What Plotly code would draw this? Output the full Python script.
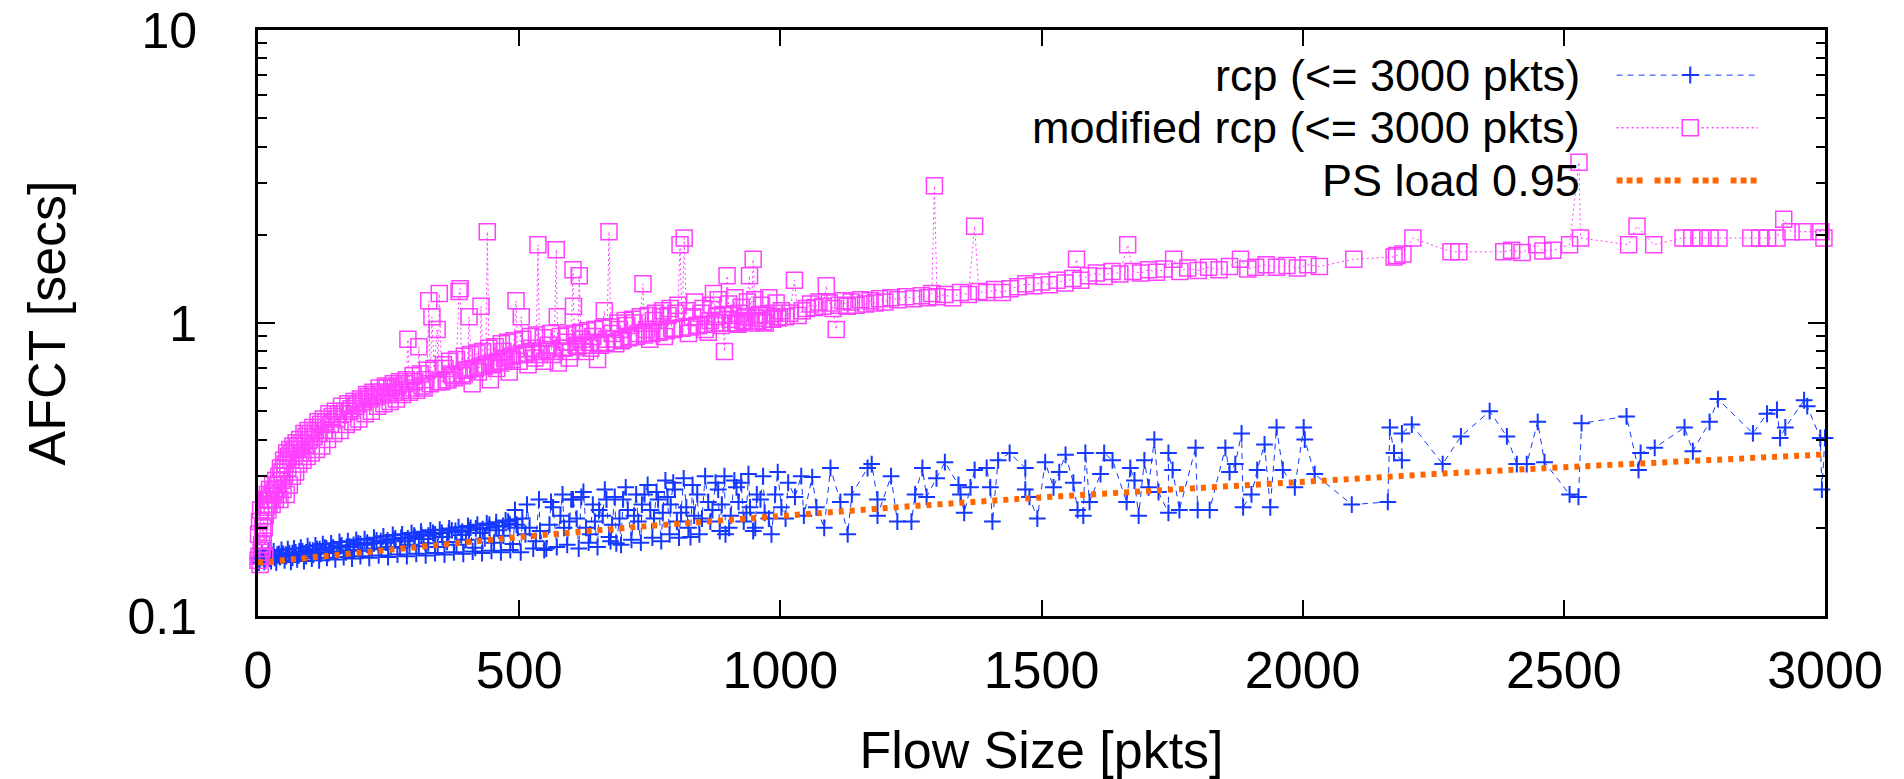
import numpy as np
import plotly.graph_objects as go

# ---------------- data ----------------
# rcp (<= 3000 pkts)
rcp_size_a = [0,3,6,10,14,18,22,27,32,37,42,48,54,60,66,72,78,85,92,99,106,113,120,128,136,144,152,160,168,176,
              184,192,200,209,218,227,236,245,254,263,272,281,290,299,308,317,326,335,344,353,362,371,380,389,398,
              407,416,425,434,443,452,461,470,479,488,497]
rcp_afct_a = [.157,.155,.16,.158,.156,.161,.157,.16,.158,.162,.159,.163,.16,.164,.158,.165,.161,.166,.16,.168,
              .162,.169,.163,.171,.164,.17,.166,.174,.165,.172,.168,.177,.167,.175,.17,.181,.169,.178,.172,.184,
              .171,.18,.175,.188,.173,.183,.177,.192,.172,.186,.179,.196,.175,.189,.182,.2,.171,.192,.184,.205,
              .178,.196,.188,.21,.176,.2]
rcp_size_a2 = [2,8,12,20,25,30,35,45,51,57,63,69,75,82,88,95,103,110,117,124,132,140,148,156,164,172,180,188,196,204,
               213,222,231,240,249,258,267,276,285,294,303,312,321,330,339,348,357,366,375,384,393,402,411,420,429,
               438,447,456,465,474,483,492]
rcp_afct_a2 = [.152,.165,.153,.167,.154,.166,.152,.168,.155,.169,.153,.17,.156,.171,.154,.173,.157,.174,.155,.176,
               .158,.177,.156,.179,.159,.18,.157,.182,.16,.183,.158,.185,.161,.187,.159,.189,.162,.19,.16,.192,
               .163,.194,.161,.196,.164,.197,.162,.199,.165,.201,.163,.203,.166,.205,.164,.207,.167,.209,.165,.212,
               .168,.214]
rcp_size_a3 = [5,16,28,40,53,66,79,92,105,118,131,144,157,170,183,196,209,222,235,248,
               261,274,287,300,313,326,339,352,365,378,391,404,417,430,443,456,469,482,495]
rcp_afct_a3 = [.158,.16,.161,.163,.162,.164,.166,.165,.167,.169,.17,.171,.173,.172,.175,.176,.178,.177,.18,.181,
               .182,.185,.184,.186,.189,.188,.19,.192,.193,.195,.194,.196,.199,.198,.2,.202,.203,.206,.205]
rcp_size_b = [492,506,532,552,565,579,603,619,636,653,667,672,686,699,720,740,751,766,784,795,810,828,841,862,881,
              895,916,925,935,948,962,983,1002,1015,1028]
rcp_afct_b = [.23,.215,.18,.17,.235,.22,.25,.255,.19,.23,.25,.186,.177,.25,.22,.26,.23,.25,.255,.285,.225,.186,.26,
              .245,.27,.19,.275,.285,.225,.195,.25,.19,.235,.285,.255]
rcp_size_c = [512,520,540,558,586,596,610,628,645,660,678,692,708,728,735,758,775,790,802,820,835,850,870,888,905,
              920,942,955,970,990,1010,1040,1045]
rcp_afct_c = [.19,.2,.195,.205,.2,.21,.215,.2,.21,.22,.205,.215,.23,.21,.24,.215,.225,.24,.21,.235,.22,.215,.23,.24,
              .22,.245,.235,.26,.225,.26,.215,.3,.22]
rcp_size_c2 = [503,515,527,538,548,561,572,583,592,600,614,623,633,641,650,664,675,683,695,704,715,724,733,746,755,
               763,772,780,788,798,806,815,824,832,845,856,866,876,884,893,902,912,930,939,952,967,978,995]
rcp_afct_c2 = [.165,.24,.17,.25,.168,.245,.172,.26,.175,.25,.17,.265,.178,.24,.172,.27,.18,.255,.175,.275,
               .182,.26,.178,.28,.185,.265,.18,.29,.19,.27,.185,.295,.2,.28,.19,.3,.21,.285,.195,.3,
               .2,.29,.21,.305,.2,.3,.215,.31]
rcp_size_d = [1061,1096,1069,1084,1129,1115,1137,1167,1175,1186,1186,1212,1224,1251,1258,1272,1280,1299,1315,1341,
              1345,1352,1364,1372,1395,1402,1406,1417,1439,1469,1469,1477,1492,1507,1523,1534,1546,1561,1569,1580,
              1584,1592,1613,1620,1636,1663,1670,1678,1686,1697,1705,1716,1724,1743,1743,1751,1764,1795,1799,1822,
              1852,1860,1871,1883,1886,1902,1913,1927,1938,1950,1962,1985,2002,2004,2023,2094,2163,2167,2175,2190,
              2190,2209]
rcp_afct_d = [.298,.32,.235,.2,.19,.245,.26,.32,.33,.25,.22,.30,.21,.21,.26,.32,.255,.295,.335,.28,
              .26,.225,.275,.315,.32,.275,.21,.34,.36,.32,.27,.255,.215,.335,.275,.31,.355,.285,.23,.22,
              .36,.245,.305,.36,.34,.245,.32,.29,.22,.34,.275,.40,.265,.225,.36,.315,.23,.375,.23,.23,
              .375,.31,.33,.42,.235,.26,.315,.385,.235,.44,.315,.275,.44,.40,.305,.24,.245,.44,.36,.34,
              .42,.45]
rcp_size_e = [2268,2303,2358,2391,2410,2429,2450,2463,2511,2528,2534,2620,2643,2647,2674,2731,2747,2779,2795,2862,
              2889,2908,2914,2924,2960,2966,2991,3000,2994]
rcp_afct_e = [.33,.41,.50,.41,.33,.33,.46,.335,.26,.255,.455,.48,.315,.36,.375,.44,.365,.46,.55,.42,
              .49,.505,.405,.44,.545,.52,.405,.405,.27]

# modified rcp (<= 3000 pkts)
mod_size_a = [0,2,4,6,8,10,12,14,16,18,20,22,25,28,31,34,37,40,43,46,49,52,55,58,61,64,67,70,73,76,80,84,88,92,96,100]
mod_afct_a = [.155,.16,.15,.165,.17,.18,.2,.22,.25,.26,.25,.27,.26,.28,.27,.29,.28,.3,.32,.31,.34,.33,.36,.35,.37,.36,
              .38,.37,.39,.38,.4,.39,.42,.41,.43,.42]
mod_size_a2 = [1,3,5,7,9,11,13,15,17,19,21,24,27,30,33,36,39,42,45,48,51,54,57,60,63,66,69,72,75,78,
               82,86,90,94,98,102,107,112,117,122,127,133,139,145,151,157,163,169,175,181,
               187,193,199,205,211,217,223,229,235,241,247,253,259,265,271,277,284,290,297,304,
               311,318,324,330,337,345,355,361,367,373,380,390,395,401,407,413,419,425,430,436,
               442,448,454,460,466,472,478,484,490,497]
mod_afct_a2 = [.19,.21,.23,.175,.2,.22,.16,.235,.24,.23,.24,.25,.24,.26,.25,.27,.26,.25,.29,.27,
               .3,.26,.32,.28,.34,.3,.35,.31,.37,.33,.36,.34,.38,.35,.4,.36,.41,.37,.42,.38,
               .43,.4,.45,.42,.47,.43,.49,.45,.5,.46,.52,.47,.54,.49,.56,.5,.57,.52,.58,.53,
               .6,.54,.62,.55,.63,.57,.64,.58,.66,.59,.67,.6,.69,.62,.7,.63,.72,.64,.74,.66,
               .75,.67,.77,.69,.78,.7,.79,.71,.8,.72,.82,.73,.83,.74,.85,.76,.86,.77,.87,.78]
mod_size_b = [105,110,115,120,125,130,136,142,148,154,160,166,172,178,184,190,196,202,208,214,220,226,232,238,244]
mod_afct_b = [.44,.43,.46,.45,.47,.46,.49,.48,.5,.49,.52,.5,.53,.51,.54,.53,.55,.54,.57,.55,.58,.56,.6,.57,.61]
mod_size_c = [250,256,262,268,274,280,287,293,300,308,314,320,327,333,343,347,352,358,364,370,376,385,387,392,398,
              404,410,416,422,427,433,439,445,451,457,463,469,475,481,487,494,500,504]
mod_afct_c = [.57,.6,.58,.61,.59,.62,.88,.6,.63,.83,.61,.64,1.19,1.05,.95,1.26,.63,.7,.64,.67,.65,1.28,1.31,.66,.69,
              1.05,.62,.7,.68,1.14,.71,2.05,.64,.72,.7,.73,.8,.74,.68,.75,1.19,.74,1.05]
mod_size_d = [510,517,524,530,536,542,549,556,563,571,573,575,582,590,596,603,604,609,615,620,627,634,641,650,656,
              663,668,672,678,685,692,699,706,713,720,728,737,744,750,757,764,771,778,785,792,800,808,816,824,832,
              840,848,856]
mod_afct_d = [.78,.72,.82,.76,1.85,.8,.74,.84,.78,1.78,1.05,.73,.82,.86,.76,1.52,1.14,.84,1.45,.88,.8,.86,.9,.75,.84,
              1.1,.88,2.05,.92,.85,.95,.88,.98,.9,1.0,.92,1.36,.95,.88,1.02,.93,1.05,.9,1.06,.96,1.08,1.85,1.95,.92,
              1.05,.98,1.08,.95]
mod_size_d2 = [507,514,521,527,533,539,546,553,560,567,579,586,593,599,606,612,618,624,631,637,
               645,653,660,666,675,682,689,696,703,710,717,724,732,740,747,754,761,768,775,782,
               789,796,804,812,820,828,836,844,852,858,869,875,881,887,901,907,913,919,925,931,
               937,944,951,957,964,971,978,985,992,998]
mod_afct_d2 = [.88,.79,.9,.8,.91,.78,.89,.81,.92,.8,.9,.82,.91,.8,.92,.83,.93,.84,.94,.82,
               .95,.85,.96,.86,.97,.88,1.0,.87,1.02,.89,1.03,.9,1.05,.91,1.06,.92,1.08,.93,1.1,.94,
               1.12,.95,1.15,.96,1.1,.97,1.18,.98,1.12,.99,1.15,1.0,1.2,.98,1.16,1.0,1.22,.99,1.13,1.01,
               1.18,1.0,1.2,1.02,1.15,1.0,1.22,1.03,1.17,1.05]
mod_size_e = [862,866,872,878,884,890,893,898,904,910,916,922,928,934,941,948,954,960,967,974,981,988,995,1002,1010,
              1018,1027,1034,1042]
mod_afct_e = [.93,1.02,1.26,1.05,1.0,1.07,.8,1.45,1.03,1.06,1.0,1.08,1.02,1.05,1.45,1.65,1.04,1.07,1.01,1.06,1.03,
              1.08,1.04,1.1,1.05,1.08,1.4,1.06,1.1]
mod_size_f = [1050,1058,1066,1074,1082,1088,1094,1101,1107,1113,1120,1128,1136,1145,1154,1163,1172,1181,1190,1200]
mod_afct_f = [1.12,1.16,1.13,1.18,1.14,1.34,1.17,1.12,.95,1.15,1.19,1.14,1.18,1.15,1.2,1.16,1.19,1.17,1.21,1.18]
mod_size_g = [1212,1225,1240,1255,1270,1282,1290,1295,1300,1315,1330,1345,1360,1372,1380,1395,1410,1425,1440]
mod_afct_g = [1.22,1.2,1.23,1.21,1.24,1.22,1.26,2.94,1.23,1.25,1.22,1.27,1.25,2.14,1.28,1.27,1.3,1.27,1.31]
mod_size_h = [1455,1470,1485,1500,1515,1530,1545,1560,1567,1575]
mod_afct_h = [1.33,1.36,1.34,1.38,1.35,1.4,1.37,1.42,1.65,1.4]
mod_size_i = [1590,1605,1620,1635,1650,1665,1675,1690,1705,1720,1735,1753,1765,1780,1800,1820,1840,1860,1881,1895]
mod_afct_i = [1.45,1.48,1.44,1.5,1.47,1.85,1.5,1.48,1.52,1.49,1.53,1.65,1.5,1.54,1.51,1.55,1.52,1.56,1.65,1.53]
mod_size_j = [1910,1930,1950,1970,1990,2010,2032,2098,2175,2180,2192,2211,2284,2299,2385,2400,2420,2448,2460,2479,
              2511,2529,2532,2624,2640,2672,2728,2745,2762,2780,2797,2858,2875,2890,2908,2921,2935,2958,2992,2998]
mod_afct_j = [1.55,1.58,1.55,1.57,1.54,1.58,1.56,1.65,1.68,1.7,1.72,1.95,1.75,1.75,1.75,1.77,1.74,1.85,1.76,1.77,
              1.85,3.54,1.95,1.85,2.14,1.85,1.95,1.95,1.95,1.95,1.95,1.95,1.95,1.95,1.95,2.26,2.05,2.05,2.05,1.95]

# PS load 0.95
ps_size = [0,250,500,750,1000,1250,1500,1750,2000,2250,2500,2750,3000]
ps_afct = [.152,.169,.186,.203,.22,.237,.254,.271,.288,.305,.322,.339,.356]

x_ticks = [0,500,1000,1500,2000,2500,3000]
legend_labels = ["rcp (<= 3000 pkts)", "modified rcp (<= 3000 pkts)", "PS load 0.95"]

BLUE = "#1438ff"
MAG = "#ff40ff"
ORANGE = "#ff6600"
FONT = "Liberation Sans, Arial, Helvetica, sans-serif"


def join(pairs):
    xs, ys = [], []
    for a, b in pairs:
        assert len(a) == len(b), (len(a), len(b))
        xs += a
        ys += b
    xs = np.array(xs, dtype=float)
    ys = np.array(ys, dtype=float)
    order = np.argsort(xs, kind="stable")
    return xs[order], ys[order]


rcp_x, rcp_y = join([(rcp_size_a, rcp_afct_a), (rcp_size_a2, rcp_afct_a2), (rcp_size_a3, rcp_afct_a3),
                     (rcp_size_b, rcp_afct_b), (rcp_size_c, rcp_afct_c), (rcp_size_c2, rcp_afct_c2),
                     (rcp_size_d, rcp_afct_d), (rcp_size_e, rcp_afct_e)])
mod_x, mod_y = join([(mod_size_a, mod_afct_a), (mod_size_a2, mod_afct_a2), (mod_size_b, mod_afct_b),
                     (mod_size_c, mod_afct_c), (mod_size_d, mod_afct_d), (mod_size_d2, mod_afct_d2),
                     (mod_size_e, mod_afct_e), (mod_size_f, mod_afct_f),
                     (mod_size_g, mod_afct_g), (mod_size_h, mod_afct_h), (mod_size_i, mod_afct_i),
                     (mod_size_j, mod_afct_j)])

fig = go.Figure()
fig.add_trace(go.Scatter(
    x=rcp_x, y=rcp_y, mode="lines+markers", name=legend_labels[0], cliponaxis=False,
    line=dict(color=BLUE, width=1, dash="6px,5px"),
    marker=dict(symbol="cross-thin-open", size=12, line=dict(color=BLUE, width=2))))
fig.add_trace(go.Scatter(
    x=mod_x, y=mod_y, mode="lines+markers", name=legend_labels[1], cliponaxis=False,
    line=dict(color=MAG, width=1, dash="2px,3px"),
    marker=dict(symbol="square-open", size=16, color=MAG, line=dict(color=MAG, width=1.5))))
fig.add_trace(go.Scatter(
    x=ps_size, y=ps_afct, mode="lines", name=legend_labels[2],
    line=dict(color=ORANGE, width=6, dash="5px,6px")))

# ---------- manual legend (text right-aligned, sample to the right) ----------
leg_y = [0.923, 0.833, 0.743]
text_x = 0.845
s0, s1, sm = 0.867, 0.957, 0.914
for lbl, yy in zip(legend_labels, leg_y):
    fig.add_annotation(xref="paper", yref="paper", x=text_x, y=yy, text=lbl, showarrow=False,
                       xanchor="right", yanchor="middle", font=dict(family=FONT, size=45, color="black"))
fig.add_shape(type="line", xref="paper", yref="paper", x0=s0, x1=s1, y0=leg_y[0], y1=leg_y[0],
              line=dict(color=BLUE, width=1, dash="6px,5px"))
fig.add_shape(type="path", xref="paper", yref="paper", xsizemode="pixel", ysizemode="pixel",
              xanchor=sm, yanchor=leg_y[0], path="M-8.5,0 L8.5,0 M0,-8.5 L0,8.5",
              line=dict(color=BLUE, width=2))
fig.add_shape(type="line", xref="paper", yref="paper", x0=s0, x1=s1, y0=leg_y[1], y1=leg_y[1],
              line=dict(color=MAG, width=1.5, dash="2px,3px"))
fig.add_shape(type="rect", xref="paper", yref="paper", xsizemode="pixel", ysizemode="pixel",
              xanchor=sm, yanchor=leg_y[1], x0=-8, x1=8, y0=-8, y1=8,
              line=dict(color=MAG, width=1.5), fillcolor="white")
fig.add_shape(type="line", xref="paper", yref="paper", x0=s0, x1=s1, y0=leg_y[2], y1=leg_y[2],
              line=dict(color=ORANGE, width=6, dash="6px,4px,6px,4px,6px,12px"))

fig.update_layout(
    width=1904, height=779,
    margin=dict(l=258, r=79, t=30, b=163, autoexpand=False),
    plot_bgcolor="white", paper_bgcolor="white",
    showlegend=False,
    font=dict(family=FONT, size=50, color="black"),
)
fig.update_xaxes(
    range=[0, 3000], tickmode="array", tickvals=x_ticks, automargin=False,
    ticks="inside", ticklen=16, tickwidth=2, tickcolor="black",
    showline=True, linewidth=3, linecolor="black", mirror="allticks",
    showgrid=False, zeroline=False, ticklabelstandoff=7,
    tickfont=dict(size=52),
    title=dict(text="Flow Size [pkts]", standoff=36, font=dict(size=52)),
)
fig.update_yaxes(
    type="log", range=[-1, 1], tickmode="linear", tick0=0, dtick=1, automargin=False,
    ticks="inside", ticklen=17, tickwidth=2, tickcolor="black",
    minor=dict(ticks="inside", ticklen=9, tickwidth=2, tickcolor="black", dtick="D1", showgrid=False),
    showline=True, linewidth=3, linecolor="black", mirror="allticks",
    showgrid=False, zeroline=False, ticklabelstandoff=48,
    tickfont=dict(size=50),
    title=dict(text="AFCT [secs]", standoff=46, font=dict(size=52)),
)

fig.write_html("out.html", config={"displayModeBar": False},
               post_script="document.body.style.margin='0px';document.body.style.padding='0px';")
